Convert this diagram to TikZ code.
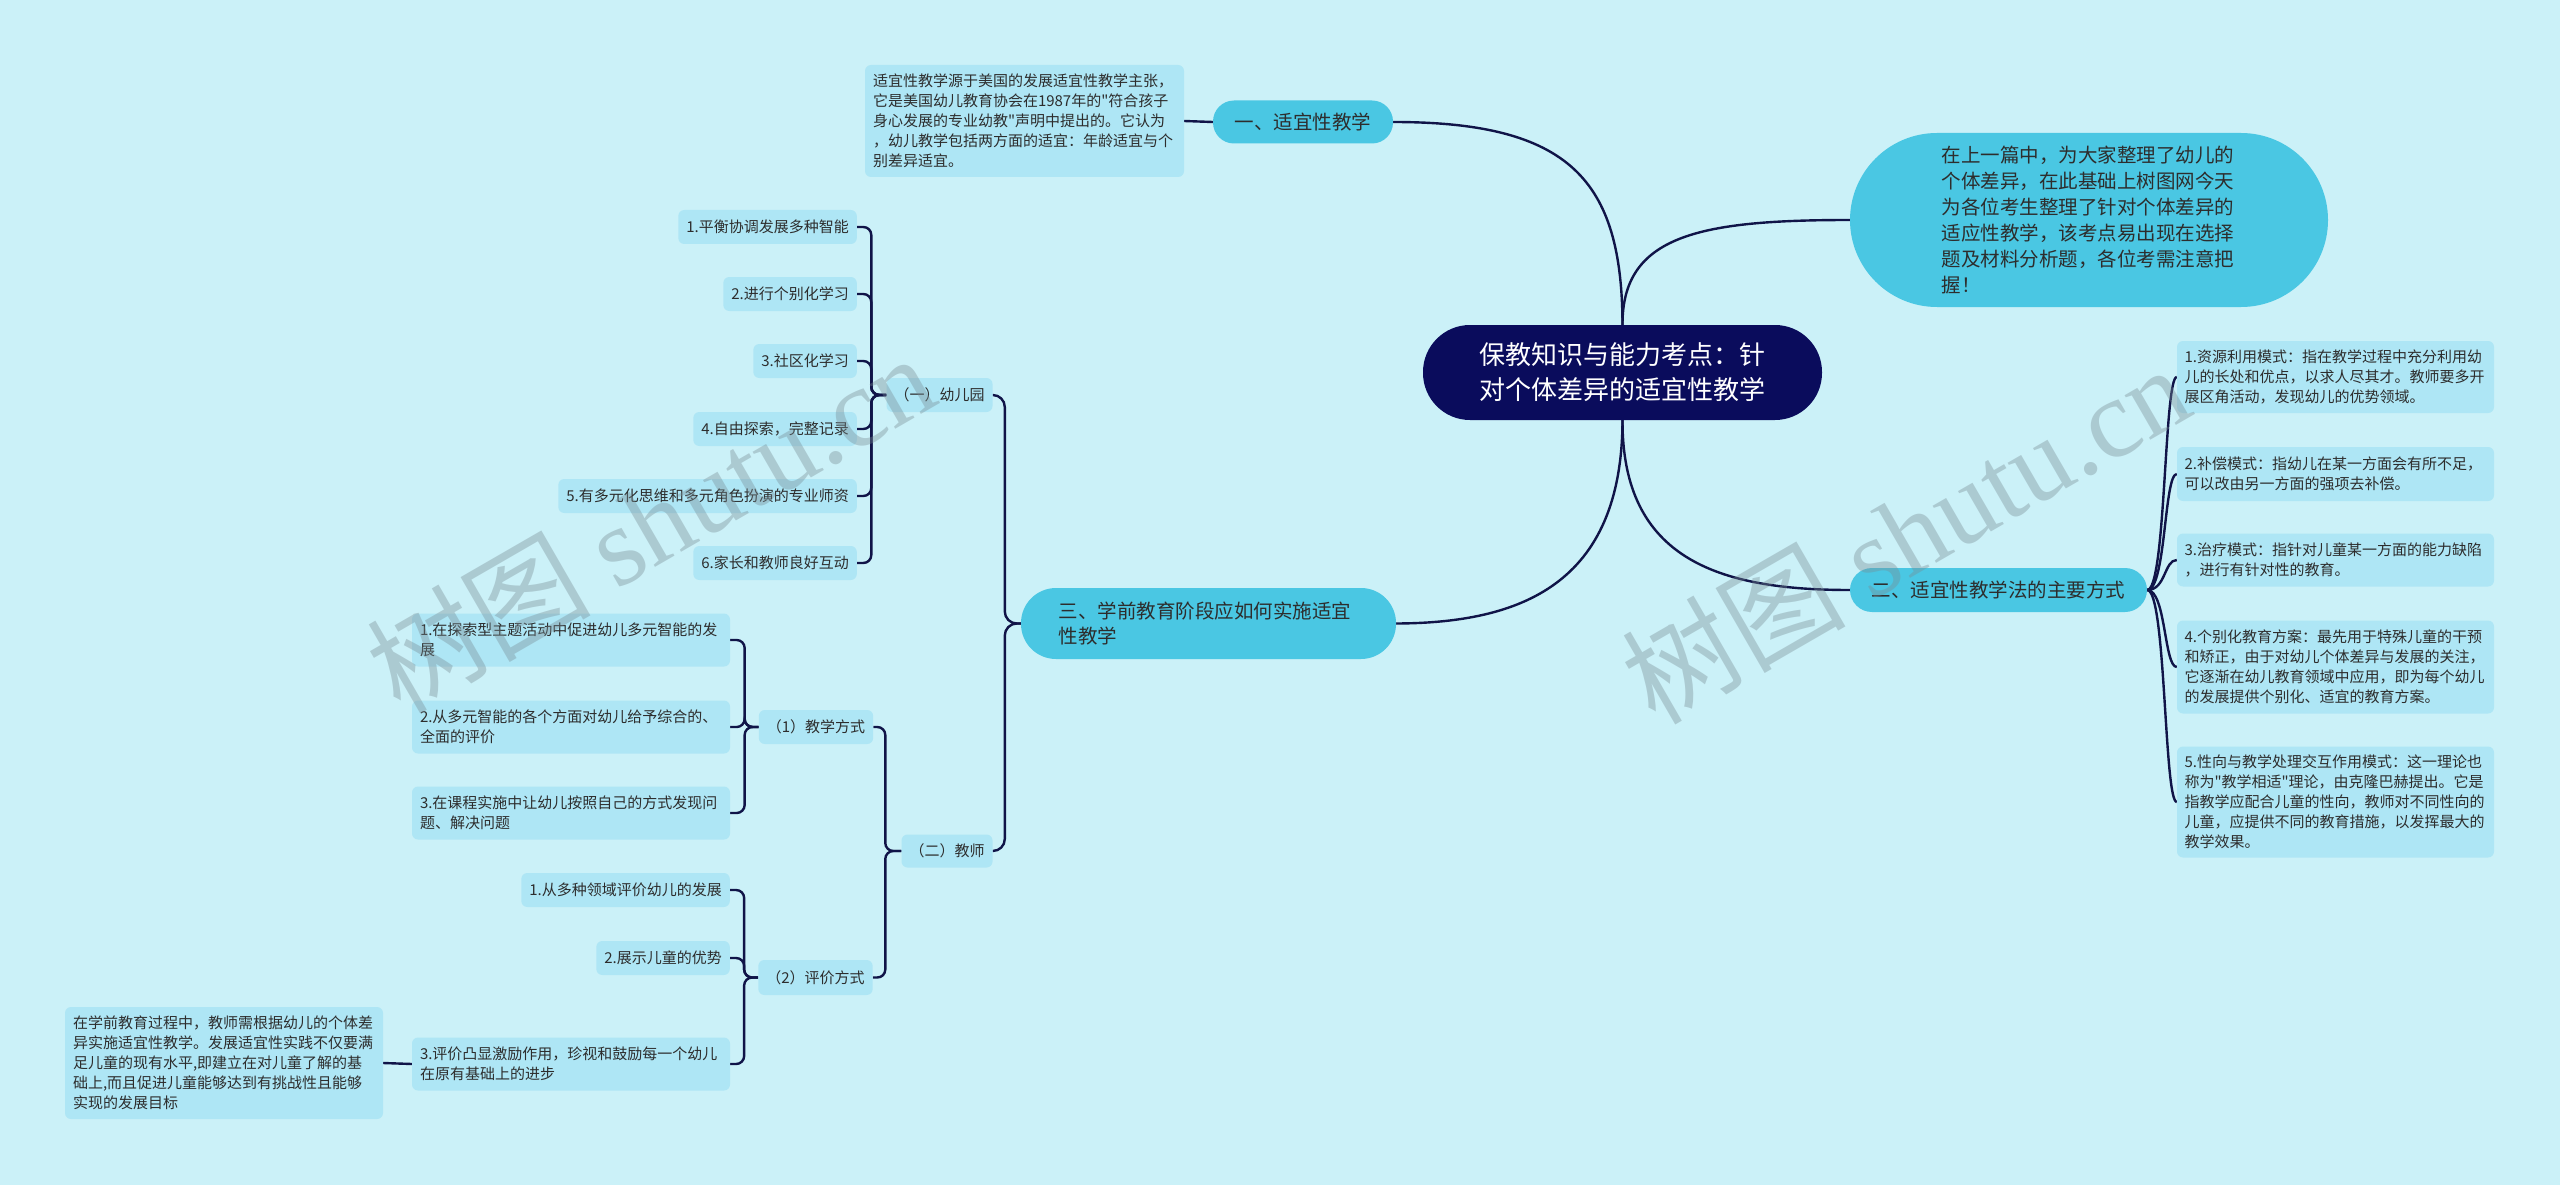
\documentclass[tikz,border=0pt]{standalone}
\usepackage{fontspec}
\newfontfamily\cjk{Noto Sans CJK SC}
\newfontfamily\wmfont{Liberation Serif}
\usetikzlibrary{backgrounds}
\definecolor{bgc}{RGB}{203,241,248}
\definecolor{leafc}{RGB}{174,230,245}
\definecolor{mainc}{RGB}{74,199,227}
\definecolor{rootc}{RGB}{10,12,92}
\definecolor{linec}{RGB}{16,20,72}
\definecolor{txtc}{RGB}{45,45,45}
\definecolor{wmc}{RGB}{120,140,148}
\tikzset{
  leaf/.style={fill=leafc, rounded corners=6pt, inner xsep=8pt, inner ysep=0pt, text=txtc, font=\cjk\fontsize{15}{20}\selectfont, align=left},
  mainbr/.style={fill=mainc, inner xsep=0pt, inner ysep=0pt, text=txtc, font=\cjk\fontsize{19.5}{25}\selectfont},
  rootbox/.style={fill=rootc, inner sep=0pt, text=white, font=\cjk\fontsize{26}{35}\selectfont, align=center, minimum width=399pt, minimum height=95pt, rounded corners=47pt},
  conn/.style={draw=linec, line width=2.4pt},
  bracket/.style={conn, rounded corners=8pt},
  wm/.style={text=wmc, text opacity=0.38, inner sep=0pt}
}
\begin{document}
\begin{tikzpicture}[x=1pt,y=-1pt]
\useasboundingbox (0,0) rectangle (2560,1185);

% root
\node[rootbox] (c) at (1622.5,372.5) {保教知识与能力考点：针\\对个体差异的适宜性教学};

% top-right note
\node[mainbr, minimum width=478pt, minimum height=174pt, rounded corners=87pt, text width=295pt, align=left, font=\cjk\fontsize{19.5}{26}\selectfont] (d0) at (2089,220)
 {在上一篇中，为大家整理了幼儿的\\个体差异，在此基础上树图网今天\\为各位考生整理了针对个体差异的\\适应性教学，该考点易出现在选择\\题及材料分析题，各位考需注意把\\握！};

% branch one
\node[mainbr, minimum width=180pt, minimum height=43pt, rounded corners=21pt, align=center] (n1) at (1303,122) {一、适宜性教学};
\node[leaf, minimum width=319pt, minimum height=112pt, text width=303pt] (dA) at (1024.5,121)
 {适宜性教学源于美国的发展适宜性教学主张，\\它是美国幼儿教育协会在1987年的"符合孩子\\身心发展的专业幼教"声明中提出的。它认为\\，幼儿教学包括两方面的适宜：年龄适宜与个\\别差异适宜。};

% branch two
\node[mainbr, minimum width=297pt, minimum height=44pt, rounded corners=22pt, align=center] (n2) at (1998.5,590) {二、适宜性教学法的主要方式};
\node[leaf, minimum width=317pt, minimum height=72pt, text width=302pt, inner xsep=7.5pt] (r1) at (2335.5,377)
 {1.资源利用模式：指在教学过程中充分利用幼\\儿的长处和优点，以求人尽其才。教师要多开\\展区角活动，发现幼儿的优势领域。};
\node[leaf, minimum width=317pt, minimum height=54pt, text width=302pt, inner xsep=7.5pt] (r2) at (2335.5,474)
 {2.补偿模式：指幼儿在某一方面会有所不足，\\可以改由另一方面的强项去补偿。};
\node[leaf, minimum width=317pt, minimum height=53pt, text width=302pt, inner xsep=7.5pt] (r3) at (2335.5,560)
 {3.治疗模式：指针对儿童某一方面的能力缺陷\\，进行有针对性的教育。};
\node[leaf, minimum width=317pt, minimum height=93pt, text width=302pt, inner xsep=7.5pt] (r4) at (2335.5,667)
 {4.个别化教育方案：最先用于特殊儿童的干预\\和矫正，由于对幼儿个体差异与发展的关注，\\它逐渐在幼儿教育领域中应用，即为每个幼儿\\的发展提供个别化、适宜的教育方案。};
\node[leaf, minimum width=317pt, minimum height=111pt, text width=302pt, inner xsep=7.5pt] (r5) at (2335.5,802)
 {5.性向与教学处理交互作用模式：这一理论也\\称为"教学相适"理论，由克隆巴赫提出。它是\\指教学应配合儿童的性向，教师对不同性向的\\儿童，应提供不同的教育措施，以发挥最大的\\教学效果。};

% branch three
\node[mainbr, minimum width=375pt, minimum height=71pt, rounded corners=35pt, text width=300pt, align=left, font=\cjk\fontsize{19.5}{24.5}\selectfont] (n3) at (1208.5,623.5)
 {三、学前教育阶段应如何实施适宜\\性教学};

% kindergarten group
\node[leaf, minimum height=34pt] (k1) at (939.5,395) {（一）幼儿园};
\node[leaf, minimum height=34pt, anchor=east] (a1) at (857,227) {1.平衡协调发展多种智能};
\node[leaf, minimum height=34pt, anchor=east] (a2) at (857,294) {2.进行个别化学习};
\node[leaf, minimum height=34pt, anchor=east] (a3) at (857,361) {3.社区化学习};
\node[leaf, minimum height=34pt, anchor=east] (a4) at (857,429) {4.自由探索，完整记录};
\node[leaf, minimum height=34pt, anchor=east] (a5) at (857,496) {5.有多元化思维和多元角色扮演的专业师资};
\node[leaf, minimum height=34pt, anchor=east] (a6) at (857,563) {6.家长和教师良好互动};

% teacher group
\node[leaf, minimum height=33pt] (k2) at (947,851) {（二）教师};
\node[leaf, minimum height=34pt] (m1) at (816,727) {（1）教学方式};
\node[leaf, minimum height=35pt] (m2) at (815.5,977.5) {（2）评价方式};
\node[leaf, minimum width=318pt, minimum height=53pt, text width=302pt] (t1) at (571,640)
 {1.在探索型主题活动中促进幼儿多元智能的发\\展};
\node[leaf, minimum width=318pt, minimum height=53pt, text width=302pt] (t2) at (571,727)
 {2.从多元智能的各个方面对幼儿给予综合的、\\全面的评价};
\node[leaf, minimum width=318pt, minimum height=53pt, text width=302pt] (t3) at (571,813)
 {3.在课程实施中让幼儿按照自己的方式发现问\\题、解决问题};
\node[leaf, minimum height=34pt, anchor=east] (e1) at (730,890) {1.从多种领域评价幼儿的发展};
\node[leaf, minimum height=34pt, anchor=east] (e2) at (730,958) {2.展示儿童的优势};
\node[leaf, minimum width=318pt, minimum height=53pt, text width=302pt] (e3) at (571,1064)
 {3.评价凸显激励作用，珍视和鼓励每一个幼儿\\在原有基础上的进步};
\node[leaf, minimum width=318pt, minimum height=112pt, text width=302pt] (dL) at (224,1063)
 {在学前教育过程中，教师需根据幼儿的个体差\\异实施适宜性教学。发展适宜性实践不仅要满\\足儿童的现有水平,即建立在对儿童了解的基\\础上,而且促进儿童能够达到有挑战性且能够\\实现的发展目标};

\begin{pgfonlayer}{background}
\fill[bgc] (0,0) rectangle (2560,1185);
% root connectors
\draw[conn] (c.north) .. controls (1622,180) and (1570,122) .. (n1.east);
\draw[conn] (c.north) .. controls (1622,235) and (1700,220) .. (d0.west);
\draw[conn] (c.south) .. controls (1622,585) and (1520,623) .. (n3.east);
\draw[conn] (c.south) .. controls (1622,560) and (1720,590) .. (n2.west);
% branch one
\draw[conn] (dA.east) -- (n1.west);
% branch two
\foreach \r in {r1,r2,r3,r4,r5}{
  \draw[conn] (n2.east) .. controls (2166,590) and (2164,590 |- \r.west) .. (\r.west);
}
% branch three
\draw[conn, rounded corners=12pt] (n3.west) -- ++(-16,0) |- (k1.east);
\draw[conn, rounded corners=12pt] (n3.west) -- ++(-16,0) |- (k2.east);
\foreach \a in {a1,a2,a3,a4,a5,a6}{
  \draw[bracket] (k1.west) -- ++(-15,0) |- (\a.east);
}
\draw[bracket] (k2.west) -- ++(-16,0) |- (m1.east);
\draw[bracket] (k2.west) -- ++(-16,0) |- (m2.east);
\foreach \t in {t1,t2,t3}{
  \draw[bracket] (m1.west) -- ++(-14,0) |- (\t.east);
}
\foreach \e in {e1,e2,e3}{
  \draw[bracket] (m2.west) -- ++(-14,0) |- (\e.east);
}
\draw[conn] (e3.west) -- (dL.east);
\end{pgfonlayer}

% watermarks
\node[wm, rotate=30] (w1) at (650,522) {\cjk\fontsize{112}{112}\selectfont 树图 \wmfont shutu.cn};
\node[wm, rotate=30] (w2) at (1905,533) {\cjk\fontsize{112}{112}\selectfont 树图 \wmfont shutu.cn};
\end{tikzpicture}
\end{document}
